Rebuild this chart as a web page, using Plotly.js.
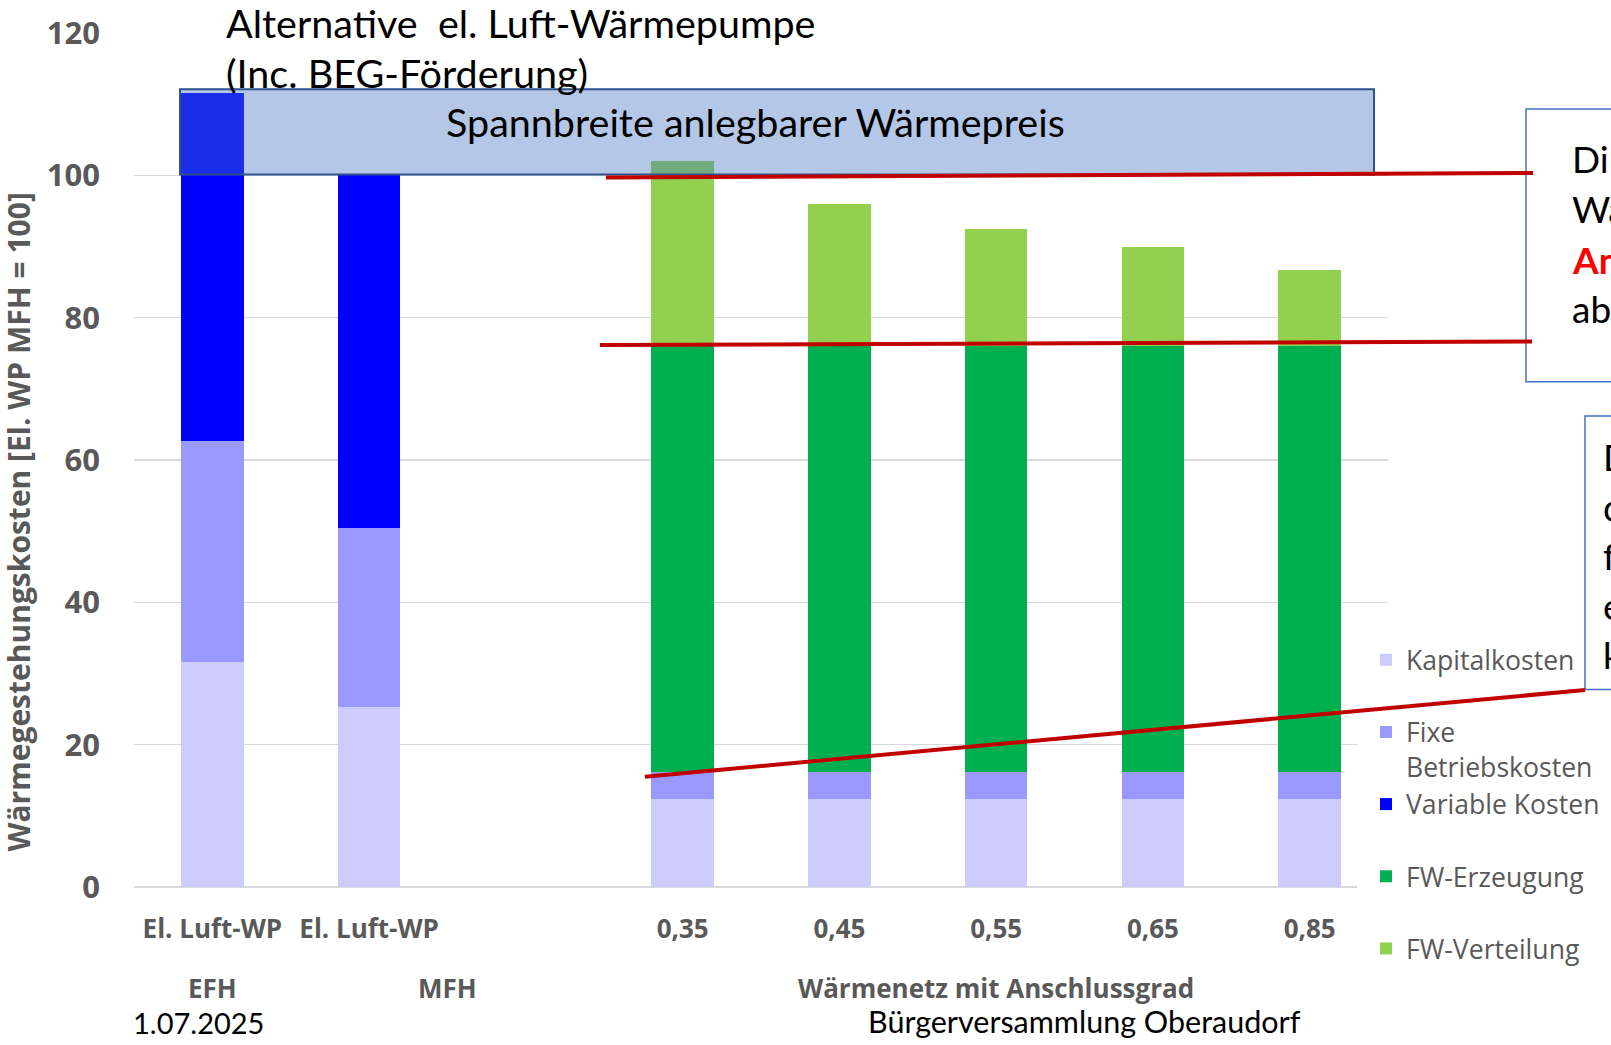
<!DOCTYPE html>
<html>
<head>
<meta charset="utf-8">
<script src="https://cdn.plot.ly/plotly-3.0.1.min.js"></script>
<style>
  html, body { margin: 0; padding: 0; background: #ffffff; overflow: hidden; }
  #chart { width: 1611px; height: 1045px; }
</style>
</head>
<body>
<div id="chart"></div>
<script>
// ---- Data ----
const groups = ["EFH", "MFH", "MFH",
  "Wärmenetz mit Anschlussgrad", "Wärmenetz mit Anschlussgrad", "Wärmenetz mit Anschlussgrad",
  "Wärmenetz mit Anschlussgrad", "Wärmenetz mit Anschlussgrad"];
const categories = ["El. Luft-WP", "El. Luft-WP", "", "0,35", "0,45", "0,55", "0,65", "0,85"];

const kapitalkosten   = [31.6, 25.3, null, 12.4, 12.4, 12.4, 12.4, 12.4];
const fixeBetrieb     = [31.1, 25.1, null, 3.8, 3.8, 3.8, 3.8, 3.8];
const variableKosten  = [48.9, 49.6, null, null, null, null, null, null];
const fwErzeugung     = [null, null, null, 59.8, 59.8, 59.8, 59.8, 59.8];
const fwVerteilung    = [null, null, null, 26.0, 20.0, 16.5, 13.9, 10.7];

const seriesNames  = ["Kapitalkosten", "Fixe<br>Betriebskosten", "Variable Kosten", "FW-Erzeugung", "FW-Verteilung"];
const seriesColors = ["#CCCCFF", "#9999FF", "#0000FF", "#00B050", "#92D050"];
const seriesValues = [kapitalkosten, fixeBetrieb, variableKosten, fwErzeugung, fwVerteilung];

const yTicks = [0, 20, 40, 60, 80, 100, 120];

// ---- Layout helpers (pixel geometry of the plot area) ----
const W = 1611, H = 1045;
const L = 134, R = 223, T = 33, B = 158;
const PW = W - L - R, PH = H - T - B;
const px = x => (x - L) / PW;            // page x pixel -> paper x
const py = y => (H - B - y) / PH;        // page y pixel -> paper y

const slideFont = "Lato, 'Noto Sans', sans-serif";
const chartFont = "'Open Sans', 'Noto Sans', sans-serif";
const grey = "#595959";

// category positions on the axis (one slot per category, incl. the empty gap slot)
const xIndex = categories.map((c, i) => i);

const traces = seriesValues.map((vals, i) => ({
  type: "bar",
  name: seriesNames[i] + (i === 1 ? "" : "<br> "),
  x: xIndex,
  y: vals,
  marker: { color: seriesColors[i], line: { width: 0 } },
  hoverinfo: "y+name"
}));

// group labels centred under their categories
const groupNames = groups.filter((g, i) => groups.indexOf(g) === i);
const groupAnnotations = groupNames.map(g => {
  const idx = xIndex.filter(i => groups[i] === g);
  return {
    text: "<b>" + g + "</b>", xref: "x", yref: "paper",
    x: idx.reduce((a, b) => a + b, 0) / idx.length, y: py(988),
    xanchor: "center", yanchor: "middle", showarrow: false,
    font: { family: chartFont, size: 26, color: grey }
  };
});

const red = "#C00000";
const shapes = [
  // white legend background (kept under the red line)
  { type: "rect", xref: "paper", yref: "paper", x0: px(1357), x1: px(1395), y0: py(892), y1: py(628),
    fillcolor: "#ffffff", line: { width: 0 }, layer: "above" },
  // Spannbreite band
  { type: "rect", xref: "paper", yref: "paper", x0: px(180), x1: px(1374), y0: py(174.6), y1: py(89.3),
    fillcolor: "rgba(68,114,196,0.4)", line: { color: "#2F528F", width: 2 }, layer: "above" },
  // text boxes on the right (cut by page edge)
  { type: "rect", xref: "paper", yref: "paper", x0: px(1526), x1: px(1800), y0: py(381.7), y1: py(109),
    fillcolor: "rgba(0,0,0,0)", line: { color: "#4472C4", width: 1.5 }, layer: "above" },
  { type: "rect", xref: "paper", yref: "paper", x0: px(1585), x1: px(1800), y0: py(689.5), y1: py(416),
    fillcolor: "rgba(0,0,0,0)", line: { color: "#4472C4", width: 1.5 }, layer: "above" },
  // red guide lines
  { type: "line", xref: "paper", yref: "paper", x0: px(606), y0: py(177.5), x1: px(1533), y1: py(173),
    line: { color: red, width: 4 }, layer: "above" },
  { type: "line", xref: "paper", yref: "paper", x0: px(600), y0: py(345), x1: px(1532), y1: py(341.5),
    line: { color: red, width: 4 }, layer: "above" },
  { type: "line", xref: "paper", yref: "paper", x0: px(645), y0: py(776.7), x1: px(1585), y1: py(690),
    line: { color: red, width: 4 }, layer: "above" }
];

function txt(text, x, y, opts) {
  return Object.assign({
    text: text, xref: "paper", yref: "paper", x: px(x), y: py(y),
    xanchor: "left", yanchor: "middle", showarrow: false,
    font: { family: slideFont, size: 39.5, color: "#000000" }
  }, opts || {});
}
const boxFont = { family: slideFont, size: 37, color: "#000000" };

const annotations = groupAnnotations.concat([
  txt("Alternative\u00a0 el. Luft-Wärmepumpe", 224, 23),
  txt("(Inc. BEG-Förderung)", 224, 72),
  txt("Spannbreite anlegbarer Wärmepreis", 755, 121, { xanchor: "center" }),
  txt("1.07.2025", 131, 1022, { font: { family: slideFont, size: 29, color: "#000000" } }),
  txt("Bürgerversammlung Oberaudorf", 866, 1021, { font: { family: slideFont, size: 30.5, color: "#000000" } }),
  txt("Di", 1570, 158, { font: boxFont }),
  txt("Wä", 1570, 208.5, { font: boxFont }),
  txt("<b>An</b>", 1570, 259, { font: { family: slideFont, size: 37, color: "#FF0000" } }),
  txt("ab", 1570, 308, { font: boxFont }),
  txt("D", 1601, 456, { font: boxFont }),
  txt("d", 1601, 506, { font: boxFont }),
  txt("f", 1601, 555, { font: boxFont }),
  txt("e", 1601, 605, { font: boxFont }),
  txt("k", 1601, 655, { font: boxFont }),
  // y-axis title
  txt("<b>Wärmegestehungskosten [El. WP MFH = 100]</b>", 17.5, 522,
      { xanchor: "center", textangle: -90, font: { family: chartFont, size: 30, color: grey } })
]);

const layout = {
  width: W, height: H,
  margin: { l: L, r: R, t: T, b: B, pad: 0, autoexpand: false },
  paper_bgcolor: "#ffffff", plot_bgcolor: "#ffffff",
  barmode: "stack", bargap: 0.6,
  showlegend: true,
  legend: {
    x: px(1366), y: py(636), xanchor: "left", yanchor: "top",
    bgcolor: "rgba(0,0,0,0)", borderwidth: 0, traceorder: "normal", valign: "top",
    font: { family: chartFont, size: 26.6, color: grey }
  },
  xaxis: {
    type: "linear", range: [-0.5, categories.length - 0.5],
    tickvals: xIndex, ticktext: categories,
    showgrid: false, zeroline: false, showline: false, ticks: "", ticklabelstandoff: 24,
    tickfont: { family: chartFont, size: 26, color: grey, weight: "bold" }
  },
  yaxis: {
    range: [0, 120], tickvals: yTicks, ticktext: yTicks.map(v => "<b>" + v + "</b>"),
    showgrid: true, gridcolor: "#D9D9D9", gridwidth: 1.5, zeroline: true, zerolinecolor: "#D9D9D9",
    zerolinewidth: 2, showline: false, ticks: "", ticklabelstandoff: 33,
    tickfont: { family: chartFont, size: 31, color: grey }
  },
  shapes: shapes,
  annotations: annotations,
  font: { family: chartFont }
};

Plotly.newPlot("chart", traces, layout, { displayModeBar: false, staticPlot: true });
</script>
</body>
</html>
